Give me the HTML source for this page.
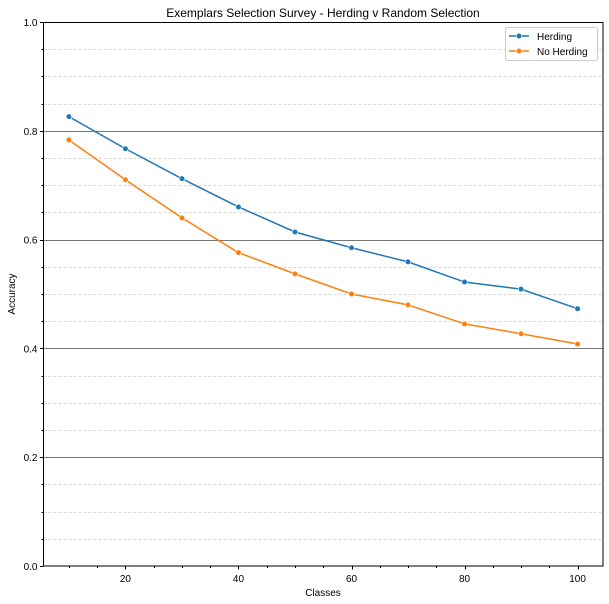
<!DOCTYPE html>
<html><head><meta charset="utf-8"><style>
html,body{margin:0;padding:0;background:#fff}
svg{display:block;font-family:"Liberation Sans","DejaVu Sans",sans-serif}
</style></head><body>
<svg id="c" width="609" height="604" xmlns="http://www.w3.org/2000/svg">
<text x="323" y="17" text-anchor="middle" font-size="12">Exemplars Selection Survey - Herding v Random Selection</text>
<g id="grid"></g><g id="ticks"></g><g id="series"></g>
<rect x="43.5" y="22.5" width="559.5" height="543.5" fill="none" stroke="#000" stroke-width="1"/>
<text x="323" y="596" text-anchor="middle" font-size="10">Classes</text>
<text x="15" y="294" text-anchor="middle" font-size="10" transform="rotate(-90 15 294)">Accuracy</text>
<g>
<rect x="505.5" y="27.5" width="92" height="33" rx="2" fill="#fff" fill-opacity="0.85" stroke="#ccc"/>
<g>
<line x1="509" y1="36" x2="529" y2="36" stroke="#1f77b4" stroke-width="1.5"/><circle cx="519" cy="36" r="2.8" fill="#1f77b4" stroke="#fff" stroke-width="0.6"/>
<text x="537" y="40" font-size="10">Herding</text></g>
<g>
<line x1="509" y1="51" x2="529" y2="51" stroke="#ff7f0e" stroke-width="1.5"/><circle cx="519" cy="51" r="2.8" fill="#ff7f0e" stroke="#fff" stroke-width="0.6"/>
<text x="537" y="55" font-size="10">No Herding</text></g>
</g>
</svg>
<script>
const classes=[10,20,30,40,50,60,70,80,90,100];
const herding=[0.826,0.767,0.712,0.660,0.614,0.585,0.559,0.522,0.509,0.473];
const noHerding=[0.783,0.710,0.640,0.576,0.537,0.500,0.480,0.445,0.427,0.408];
const xTicks=[20,40,60,80,100];
const yTicks=[0.0,0.2,0.4,0.6,0.8,1.0];
const NS="http://www.w3.org/2000/svg";
const X0=43.5,X1=603,Y0=566,Y1=22;
const xs=v=>X0+(v-5.5)/99*(X1-X0);
const ys=v=>Y0-v*(Y0-Y1);
function mk(t,a,p){const e=document.createElementNS(NS,t);for(const k in a)e.setAttribute(k,a[k]);p.appendChild(e);return e;}
const grid=document.getElementById('grid'),ticks=document.getElementById('ticks'),ser=document.getElementById('series');
for(let i=1;i<20;i++){const v=i*0.05;const y=Math.round(ys(v))+0.5;
 const major=i%4===0;
 const g=mk('line',{x1:X0,x2:X1,y1:y,y2:y,stroke:major?'#777':'#ccc','stroke-width':major?1:0.8,'stroke-dasharray':major?'':'3,2'},grid);
 
 }
for(let i=0;i<=20;i++){const y=Math.round(ys(i*0.05))+0.5;mk('line',{x1:X0-(i%4?2:3.5),x2:X0,y1:y,y2:y,stroke:'#000'},ticks);}
yTicks.forEach(v=>{const t=mk('text',{x:X0-6,y:ys(v)+4,'text-anchor':'end','font-size':10},ticks);t.textContent=v.toFixed(1);
 
 });
for(let v=10;v<=100;v+=5){const x=Math.round(xs(v))+0.5;const maj=xTicks.includes(v);mk('line',{x1:x,x2:x,y1:Y0,y2:Y0+(maj?3.5:2),stroke:'#000'},ticks);}
xTicks.forEach(v=>{const t=mk('text',{x:xs(v),y:Y0+16,'text-anchor':'middle','font-size':10},ticks);t.textContent=v;
 
 });
function draw(vals,color,name){
 const g=mk('g',{},ser);
 
 
 mk('polyline',{points:vals.map((v,i)=>xs(classes[i])+','+ys(v)).join(' '),fill:'none',stroke:color,'stroke-width':1.5},g);
 vals.forEach((v,i)=>{const c=mk('circle',{cx:xs(classes[i]),cy:ys(v),r:2.8,fill:color,stroke:'#fff','stroke-width':0.6},g);
  
  });
}
draw(herding,'#1f77b4','herding');
draw(noHerding,'#ff7f0e','no-herding');
</script>
</body></html>
